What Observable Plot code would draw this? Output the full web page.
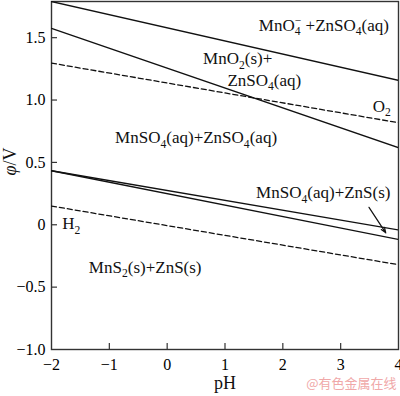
<!DOCTYPE html>
<html><head><meta charset="utf-8">
<script src="https://cdn.jsdelivr.net/npm/d3@7"></script>
<script src="https://cdn.jsdelivr.net/npm/@observablehq/plot@0.6"></script>
<style>body{margin:0;background:#fff;}</style>
</head><body><div id="chart"></div>
<script>
// ---- data ----
const pHEnds = [-2, 4];
const mno4Line = [1.79, 1.158];   // MnO4- / MnO2
const mno2Line = [1.574, 0.618];  // MnO2 / Mn2+
const o2Line   = [1.296, 0.818];  // O2 (dashed)
const znsUpper = [0.433, -0.042]; // MnSO4+ZnS upper boundary
const znsLower = [0.433, -0.118]; // MnSO4+ZnS lower boundary
const h2Line   = [0.15, -0.32];   // H2 (dashed)

const lineNames  = ["MnO4", "MnO2", "O2", "ZnS1", "ZnS2", "H2"];
const lineValues = [mno4Line, mno2Line, o2Line, znsUpper, znsLower, h2Line];
const lineDashed = [false, false, true, false, false, true];

const xTicks = [-2, -1, 0, 1, 2, 3, 4];
const xTickLabels = ["−2", "−1", "0", "1", "2", "3", "4"];
const yTicks = [-1, -0.5, 0, 0.5, 1, 1.5];
const yTickLabels = ["−1.0", "−0.5", "0", "0.5", "1.0", "1.5"];

const regionLabels = ["MnO_4^− +ZnSO_4(aq)", "MnO_2(s)+", "ZnSO_4(aq)", "O_2",
  "MnSO_4(aq)+ZnSO_4(aq)", "MnSO_4(aq)+ZnS(s)", "H_2", "MnS_2(s)+ZnS(s)"];
const regionPH  = [2.71, 1.22, 1.68, 3.71, 0.50, 2.70, -1.66, -0.38];
const regionPhi = [1.60, 1.33, 1.16, 0.95, 0.70, 0.26, 0.01, -0.34];

const arrowFrom = [3.49, 0.14];
const arrowTo   = [3.78, -0.065];

// ---- build table ----
const rows = lineNames.flatMap((n, k) => pHEnds.map((p, i) => ({line: n, pH: p, phi: lineValues[k][i], dashed: lineDashed[k]})));
const labels = regionLabels.map((t, i) => ({t, x: regionPH[i], y: regionPhi[i]}));

const serif = "'Liberation Serif', 'Times New Roman', serif";

const chart = Plot.plot({
  width: 400, height: 396,
  marginLeft: 51, marginRight: 2, marginTop: 1, marginBottom: 47,
  style: {fontFamily: serif, background: "#fff", color: "#111"},
  x: {domain: [-2, 4]},
  y: {domain: [-1, 1.79]},
  marks: [
    Plot.frame({stroke: "#333", strokeWidth: 1.4}),
    Plot.axisX({ticks: xTicks, tickFormat: d => xTickLabels[xTicks.indexOf(d)], tickSize: 0, tickPadding: 9, fontSize: 16, fill: "#000", label: null}),
    Plot.axisY({ticks: yTicks, tickFormat: d => yTickLabels[yTicks.indexOf(d)], tickSize: 0, tickPadding: 6, fontSize: 16, fill: "#000", label: null}),
    Plot.tickX(xTicks.slice(1, -1), {x: d => d, insetTop: 342, stroke: "#333", strokeWidth: 1.2}),
    Plot.tickY(yTicks.slice(1), {y: d => d, insetRight: 341, stroke: "#333", strokeWidth: 1.2}),
    Plot.line(rows.filter(d => !d.dashed), {x: "pH", y: "phi", z: "line", stroke: "#111", strokeWidth: 1.3, clip: true}),
    Plot.line(rows.filter(d => d.dashed), {x: "pH", y: "phi", z: "line", stroke: "#111", strokeWidth: 1.3, strokeDasharray: "5,3", clip: true}),
    Plot.arrow([0], {x1: arrowFrom[0], y1: arrowFrom[1], x2: arrowTo[0], y2: arrowTo[1], stroke: "#111", strokeWidth: 1.2, headLength: 7, headAngle: 40}),
    Plot.text(labels, {x: "x", y: "y", text: "t", fontSize: 17, fill: "#111"}),
    Plot.text(["pH"], {frameAnchor: "bottom", dy: 39, fontSize: 18, fill: "#111"}),
    Plot.text(["φ/V"], {frameAnchor: "left", dx: -41, rotate: -90, fontSize: 18, fill: "#111"}),
    Plot.text(["@有色金属在线"], {frameAnchor: "bottom-right", textAnchor: "end", dx: -2, dy: 38, fontSize: 13, fill: "#f0a8a8"})
  ]
});

// ---- fonts: serif everywhere except the CJK watermark ----
chart.querySelectorAll("text").forEach(t => {
  const cjk = /[\u4e00-\u9fff]/.test(t.textContent);
  t.style.fontFamily = cjk ? "'Noto Sans CJK SC', sans-serif" : serif;
  t.style.fontVariant = "normal";
});

// ---- rich text: subscripts, superscripts, italic phi ----
const NS = "http://www.w3.org/2000/svg";
function richify(el) {
  const s = el.textContent;
  if (!/[_^φ]/.test(s)) return;
  const fs = parseFloat(getComputedStyle(el).fontSize) || 17;
  el.textContent = "";
  let cur = 0, i = 0, lastSubW = 0;
  const add = (txt, off, opts = {}) => {
    const ts = document.createElementNS(NS, "tspan");
    ts.textContent = txt;
    if (off !== cur) ts.setAttribute("dy", (off - cur).toFixed(2));
    if (opts.dx) ts.setAttribute("dx", opts.dx.toFixed(2));
    if (opts.small) ts.setAttribute("font-size", (fs * 0.68).toFixed(1));
    if (opts.italic) ts.setAttribute("font-style", "italic");
    el.appendChild(ts);
    cur = off;
  };
  let buf = "";
  const flush = () => { if (buf) { add(buf, 0); buf = ""; } };
  while (i < s.length) {
    const c = s[i];
    if (c === "_") { flush(); add(s[i + 1], fs * 0.28, {small: true}); lastSubW = fs * 0.68 * 0.5; i += 2; continue; }
    if (c === "^") { flush(); const stacked = s[i - 2] === "_"; add(s[i + 1], -fs * 0.38, {small: true, dx: stacked ? -lastSubW : 0}); i += 2; continue; }
    if (c === "φ") { flush(); add("φ", 0, {italic: true}); i++; continue; }
    if (cur !== 0) { add(c, 0); i++; continue; }
    buf += c; i++;
  }
  flush();
}
document.getElementById("chart").appendChild(chart);
chart.querySelectorAll("text").forEach(t => {
  const spans = t.querySelectorAll("tspan");
  if (spans.length) spans.forEach(richify); else richify(t);
});
</script>
</body></html>
